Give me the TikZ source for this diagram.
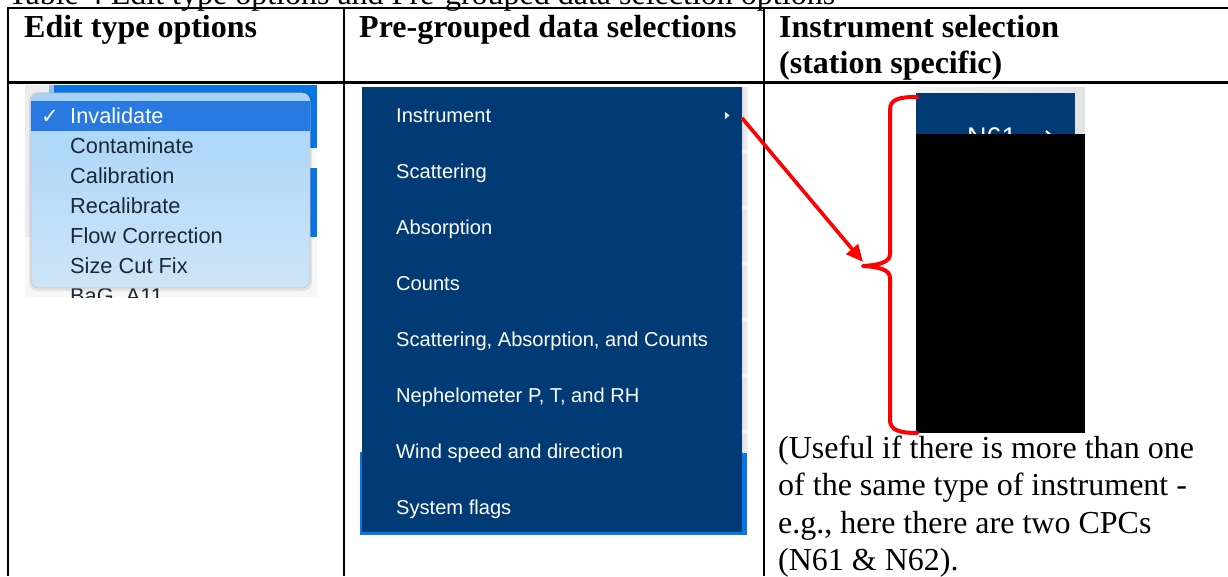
\documentclass[tikz,border=0pt]{standalone}
\usepackage{fontspec}
\setmainfont{Liberation Serif}
\newfontfamily\uifont{Liberation Sans}
\newfontfamily\symfont{DejaVu Sans}
\usetikzlibrary{arrows.meta}

\definecolor{navy}{RGB}{0,59,118}
\definecolor{brightblue}{RGB}{10,117,230}
\definecolor{popuptop}{RGB}{166,211,248}
\definecolor{popupbot}{RGB}{206,229,248}
\definecolor{hilite}{RGB}{40,121,226}
\definecolor{popuptext}{RGB}{28,40,56}
\definecolor{shotgray}{RGB}{236,236,238}

\tikzset{
  rule/.style={line width=2.2pt, black},
  headtext/.style={anchor=base west, inner sep=0pt, font=\fontsize{32}{37}\selectfont\bfseries},
  bodytext/.style={anchor=base west, inner sep=0pt, font=\fontsize{32}{37}\selectfont},
  popitem/.style={anchor=base west, inner sep=0pt, text=popuptext, font=\uifont\fontsize{21.8}{24}\selectfont},
  menuitem/.style={anchor=base west, inner sep=0pt, text=white, font=\uifont\fontsize{20.1}{22}\selectfont},
  redmark/.style={red, line width=4pt, line cap=round, line join=round},
}

\begin{document}
\begin{tikzpicture}[x=1pt, y=-1pt]
\useasboundingbox (0,0) rectangle (1228,576);
\clip (0,0) rectangle (1228,576);

% caption running above the table
\node[bodytext] (caption) at (8,4) {Table 4 Edit type options and Pre-grouped data selection options};

% ---------- table rules ----------
\draw[rule] (7,8) -- (1228,8);
\draw[rule] (7,82.5) -- (1228,82.5);
\draw[rule] (8,7) -- (8,576);
\draw[rule] (344,7) -- (344,576);
\draw[rule] (764,7) -- (764,576);

% ---------- header row ----------
\node[headtext] (h1) at (24,37) {Edit type options};
\node[headtext] (h2) at (359,37) {Pre-grouped data selections};
\node[headtext] (h3a) at (779,37) {Instrument selection};
\node[headtext] (h3b) at (779,73) {(station specific)};

% ---------- edit type popup ----------
\fill[shotgray] (25,85) rectangle (317,297);
\fill[brightblue!45] (49,85) rectangle (54,148);
\fill[brightblue] (54,85) rectangle (317,148);
\fill[white!96!gray] (54,148) rectangle (317,168);
\fill[brightblue] (296,168) rectangle (317,237);
\fill[white!94!gray] (25,237) rectangle (317,297);
\begin{scope}
  \clip (25,85) rectangle (317,297);
  \node[popitem] (bag) at (70,303) {BaG\_A11};
\end{scope}
\fill[black, opacity=0.08, rounded corners=9pt] (29,92) rectangle (312,291);
\shade[top color=popuptop, bottom color=popupbot, rounded corners=8pt]
  (31,93) rectangle (310,288);
\draw[gray!45, line width=0.6pt, rounded corners=8pt] (31,93) rectangle (310,288);
\fill[hilite] (31,101) rectangle (310,131);
\node[anchor=base west, inner sep=0pt, text=white, font=\symfont\fontsize{21}{24}\selectfont] (check) at (41,123) {✓};
\node[popitem, text=white] (pInv) at (70,123) {Invalidate};
\node[popitem] (pCon) at (70,153) {Contaminate};
\node[popitem] (pCal) at (70,183) {Calibration};
\node[popitem] (pRec) at (70,213) {Recalibrate};
\node[popitem] (pFlow) at (70,243) {Flow Correction};
\node[popitem] (pSize) at (70,273) {Size Cut Fix};

% ---------- pre-grouped selection menu ----------
\fill[brightblue] (360,452) rectangle (747,535);
\shade[left color=gray!25, right color=gray!8] (742,87) rectangle (748,452);
\foreach \yy in {150,206,262,318,374,430}
  \fill[white, opacity=0.5] (742,\yy) rectangle (748,\yy+3);
\fill[navy] (362,87) rectangle (742,532);
\node[menuitem] (mInstr) at (396,122) {Instrument};
\node[menuitem] (mScat) at (396,178) {Scattering};
\node[menuitem] (mAbs) at (396,234) {Absorption};
\node[menuitem] (mCnt) at (396,290) {Counts};
\node[menuitem] (mSAC) at (396,346) {Scattering, Absorption, and Counts};
\node[menuitem] (mNeph) at (396,402) {Nephelometer P, T, and RH};
\node[menuitem] (mWind) at (396,458) {Wind speed and direction};
\node[menuitem] (mSys) at (396,514) {System flags};
\fill[white] (725,112) -- (729.5,115.5) -- (725,119) -- cycle;
\coordinate (instrEdge) at (742,118);

% ---------- instrument selection ----------
\shade[left color=gray!8, right color=gray!22] (916,87) rectangle (1085,134);
\fill[navy] (916,93) rectangle (1075,135);
\begin{scope}
  \clip (916,93) rectangle (1075,134);
  \node[menuitem, font=\uifont\fontsize{27}{30}\selectfont] (n61) at (967,146) {N61};
  \draw[white, line width=2pt] (1046,131) -- (1053,137) -- (1046,143);
\end{scope}
\fill[black] (916,134) rectangle (1085,433);

% red brace grouping the instrument list
\draw[redmark] (917,97) .. controls (899,97) and (890,99) .. (890,110)
  -- (890,254) .. controls (890,262) and (880,265) .. (863,266)
  .. controls (880,267) and (890,270) .. (890,278)
  -- (890,420) .. controls (890,430) and (899,433) .. (917,433);
\coordinate (braceTip) at (863,262);
\draw[red, line width=3.6pt, -{Triangle[length=17pt,width=15pt]}] (instrEdge) -- (braceTip);

% explanatory note
\node[bodytext] (t1) at (778,458) {(Useful if there is more than one};
\node[bodytext] (t2) at (778,495.5) {of the same type of instrument -};
\node[bodytext] (t3) at (778,533) {e.g., here there are two CPCs};
\node[bodytext] (t4) at (778,570.5) {(N61 \& N62).};
\end{tikzpicture}
\end{document}
